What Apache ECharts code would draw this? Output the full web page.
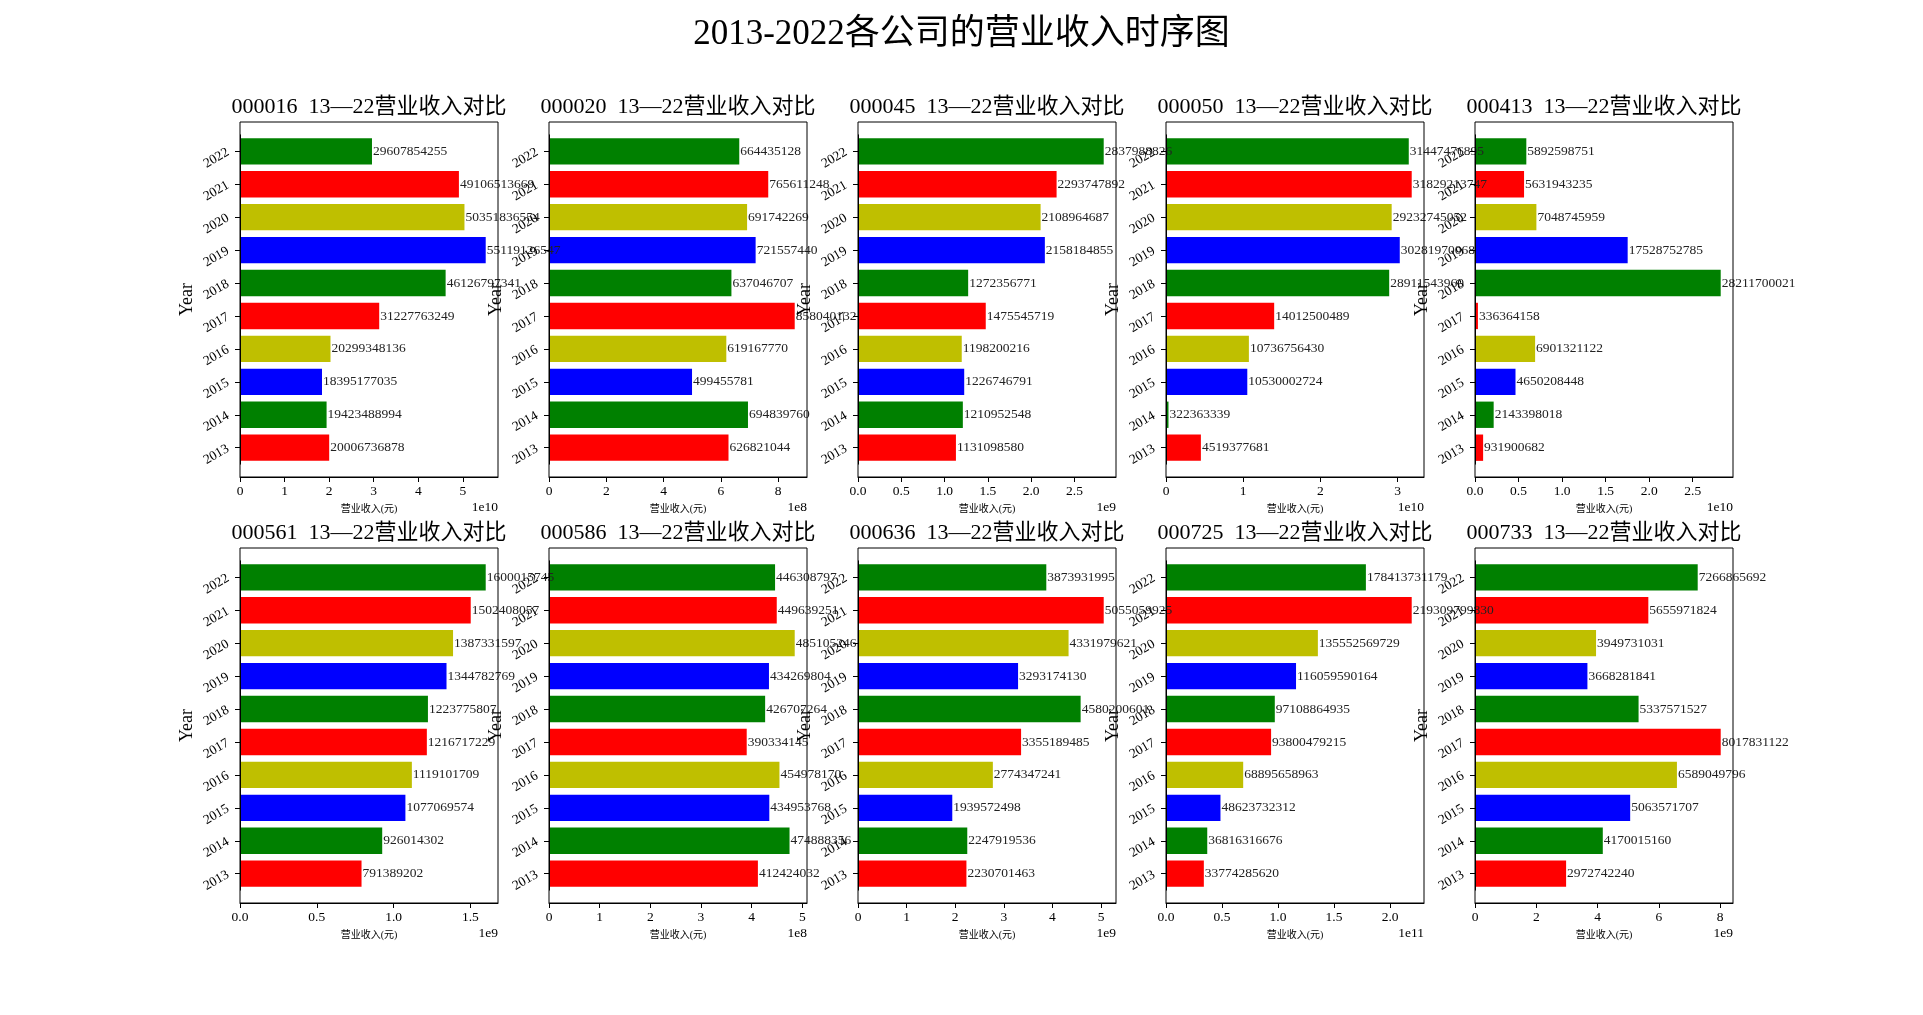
<!DOCTYPE html>
<html><head><meta charset="utf-8">
<script src="https://cdn.jsdelivr.net/npm/echarts@6/dist/echarts.min.js"></script>
<style>html,body{margin:0;padding:0;background:#fff}#c{width:1923px;height:1015px}</style>
</head><body><div id="c"></div>
<script>
// ---------- data ----------
const years = ['2013','2014','2015','2016','2017','2018','2019','2020','2021','2022'];
const companies = ['000016','000020','000045','000050','000413','000561','000586','000636','000725','000733'];
const rev000016 = [20006736878, 19423488994, 18395177035, 20299348136, 31227763249, 46126797341, 55119126547, 50351836554, 49106513669, 29607854255];
const rev000020 = [626821044, 694839760, 499455781, 619167770, 858040132, 637046707, 721557440, 691742269, 765611248, 664435128];
const rev000045 = [1131098580, 1210952548, 1226746791, 1198200216, 1475545719, 1272356771, 2158184855, 2108964687, 2293747892, 2837988826];
const rev000050 = [4519377681, 322363339, 10530002724, 10736756430, 14012500489, 28911543960, 30281970068, 29232745052, 31829213747, 31447476895];
const rev000413 = [931900682, 2143398018, 4650208448, 6901321122, 336364158, 28211700021, 17528752785, 7048745959, 5631943235, 5892598751];
const rev000561 = [791389202, 926014302, 1077069574, 1119101709, 1216717229, 1223775807, 1344782769, 1387331597, 1502408057, 1600015745];
const rev000586 = [412424032, 474888356, 434953768, 454978170, 390334145, 426707264, 434269804, 485105246, 449639251, 446308797];
const rev000636 = [2230701463, 2247919536, 1939572498, 2774347241, 3355189485, 4580200601, 3293174130, 4331979621, 5055059925, 3873931995];
const rev000725 = [33774285620, 36816316676, 48623732312, 68895658963, 93800479215, 97108864935, 116059590164, 135552569729, 219309799830, 178413731179];
const rev000733 = [2972742240, 4170015160, 5063571707, 6589049796, 8017831122, 5337571527, 3668281841, 3949731031, 5655971824, 7266865692];
const allRevenue = [rev000016, rev000020, rev000045, rev000050, rev000413, rev000561, rev000586, rev000636, rev000725, rev000733];
const exponents = [10, 8, 9, 10, 10, 9, 8, 9, 11, 9];      // axis offset text 1eN
const tickSteps = [1, 2, 0.5, 1, 0.5, 0.5, 1, 1, 0.5, 2];  // tick step in units of 1eN
const barColors = ['#ff0000', '#008000', '#0000ff', '#bfbf00'];
const mainTitle = '2013-2022各公司的营业收入时序图';
const subTitleSuffix = '  13—22营业收入对比';
const xName = '营业收入(元)';
const yName = 'Year';

// ---------- layout ----------
const FONT = "'Liberation Serif','Noto Sans CJK SC',serif";
const frameLefts = [240, 549, 858, 1166, 1475];
const frameTops = [122, 548];
const FW = 258, FH = 355;
const band = FH / 10.78;
const pad = 0.39 * band;

const grid = [], xAxis = [], yAxis = [], series = [];
const title = [{
  text: mainTitle, left: 961.5, top: 35, textAlign: 'center', textVerticalAlign: 'middle', padding: 0,
  textStyle: {fontSize: 35, fontWeight: 'normal', color: '#000', fontFamily: FONT}
}];
const frameGrids = [], frameX = [], frameY = [];

for (let k = 0; k < 10; k++) {
  const col = k % 5, row = Math.floor(k / 5);
  const L = frameLefts[col], T = frameTops[row];
  const scale = Math.pow(10, exponents[k]);
  const step = tickSteps[k];
  const dec = step < 1 ? 1 : 0;
  grid.push({left: L, top: T + pad, width: FW, height: FH - 2 * pad, containLabel: false});
  frameGrids.push({left: L, top: T, width: FW, height: FH, show: true, borderColor: '#000', borderWidth: 1, backgroundColor: 'transparent', z: 5});
  frameX.push({gridIndex: 10 + k, type: 'value', show: false});
  frameY.push({gridIndex: 10 + k, type: 'value', show: false});
  xAxis.push({
    gridIndex: k, type: 'value', min: 0, max: v => v.max * 1.05, interval: step * scale, offset: pad,
    axisLine: {show: true, lineStyle: {color: '#000', width: 1}},
    axisTick: {show: true, inside: false, length: 5, lineStyle: {color: '#000'}},
    axisLabel: {fontSize: 13.5, color: '#000', fontFamily: FONT, margin: 8, showMaxLabel: false,
      formatter: v => (v / scale).toFixed(dec)},
    splitLine: {show: false},
    name: xName, nameLocation: 'middle', nameGap: 27,
    nameTextStyle: {fontSize: 10, color: '#000', fontFamily: FONT}
  });
  yAxis.push({
    gridIndex: k, type: 'category', data: years, z: 6,
    axisLine: {show: true, lineStyle: {color: '#000', width: 1}},
    axisTick: {show: true, alignWithLabel: true, length: 5, lineStyle: {color: '#000'}},
    axisLabel: {rotate: 30, fontSize: 13.5, color: '#000', fontFamily: FONT, margin: 12},
    name: yName, nameLocation: 'middle', nameGap: 44,
    nameTextStyle: {fontSize: 18, color: '#000', fontFamily: FONT}
  });
  series.push({
    type: 'bar', xAxisIndex: k, yAxisIndex: k, data: allRevenue[k], barWidth: '80%',
    itemStyle: {color: p => barColors[p.dataIndex % barColors.length]},
    label: {show: true, position: 'right', distance: 1, fontSize: 13.5, color: '#222', fontFamily: FONT,
      formatter: p => String(p.value)}
  });
  title.push({
    text: companies[k] + subTitleSuffix, left: L + FW / 2, top: row === 0 ? 107 : 533,
    textAlign: 'center', textVerticalAlign: 'middle', padding: 0,
    textStyle: {fontSize: 22, fontWeight: 'normal', color: '#000', fontFamily: FONT}
  });
  title.push({
    text: '1e' + exponents[k], left: L + FW, top: T + FH + 30,
    textAlign: 'right', textVerticalAlign: 'middle', padding: 0,
    textStyle: {fontSize: 13.5, fontWeight: 'normal', color: '#000', fontFamily: FONT}
  });
}

const chart = echarts.init(document.getElementById('c'));
chart.setOption({
  animation: false,
  backgroundColor: '#fff',
  title: title,
  grid: grid.concat(frameGrids),
  xAxis: xAxis.concat(frameX),
  yAxis: yAxis.concat(frameY),
  series: series
});
</script></body></html>
